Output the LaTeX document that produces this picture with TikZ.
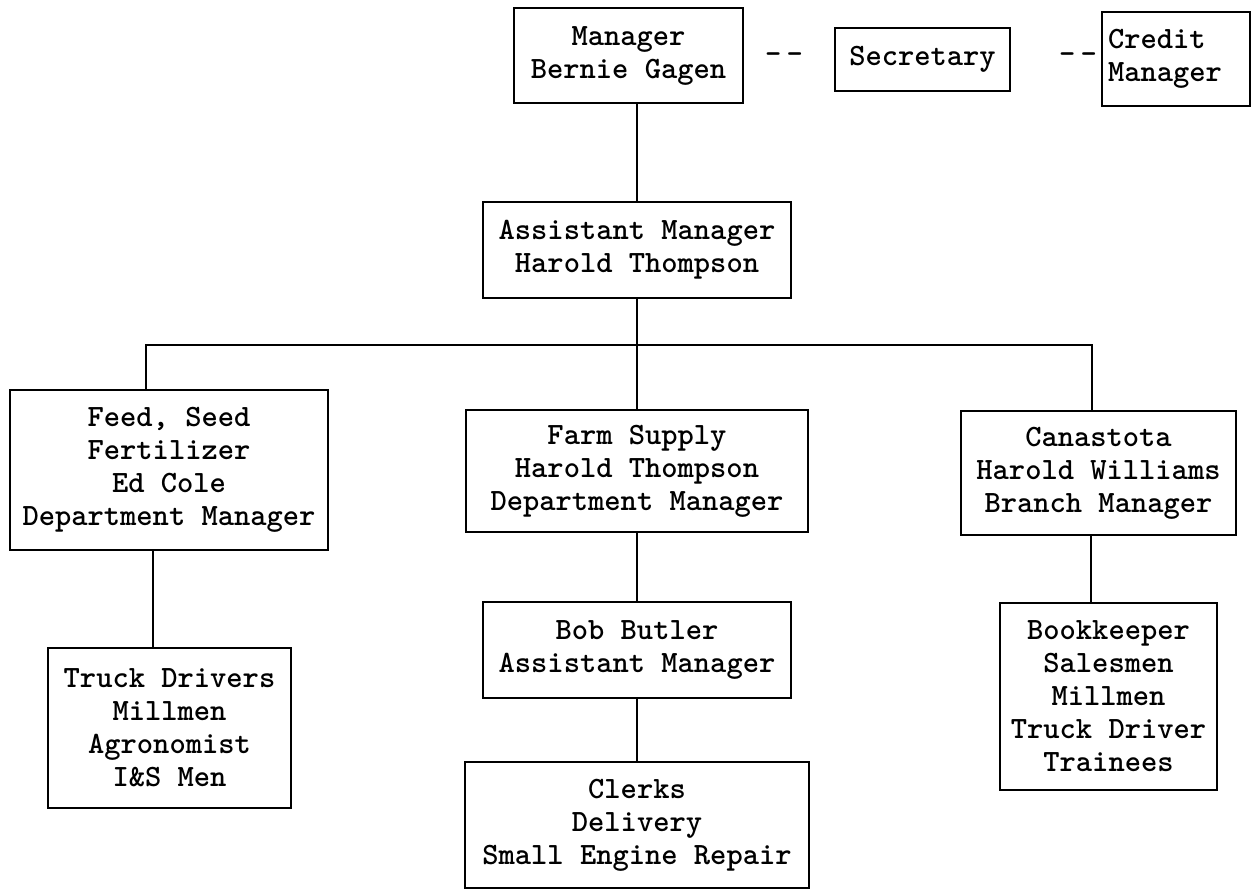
\documentclass[tikz,border=0pt]{standalone}
\usepackage{tikz}
\usetikzlibrary{positioning,calc}

\begin{document}
\begin{tikzpicture}[x=0.5pt,y=-0.5pt,line width=1.3pt,
  unit/.style={draw,align=center,inner sep=0pt,font=\fontsize{15.5}{16.5}\selectfont\ttfamily\bfseries},
  dashmark/.style={inner sep=0pt,font=\fontsize{15.5}{16.5}\selectfont\ttfamily\bfseries}]
\useasboundingbox [fill=white] (0,0) rectangle (1253,892);
% top row
\node (mgr) [unit,minimum width=114.5pt,minimum height=47.5pt] at (628.5,55.5) {Manager\\Bernie Gagen};
\node (sec) [unit,minimum width=87.5pt,minimum height=31.5pt] at (922.5,59.5) {Secretary};
\node (credit) [unit,minimum width=74pt,minimum height=47pt,align=left,text width=68pt] at (1176,59) {Credit\\Manager};
\node (d1) [dashmark] at (784,58) {-\,-};
\node (d2) [dashmark] at (1078,58) {-\,-};
% second level
\node (asst) [unit,minimum width=154pt,minimum height=48pt] at (637,250) {Assistant Manager\\Harold Thompson};
% departments
\node (feed) [unit,minimum width=159pt,minimum height=80pt] at (169,470) {Feed, Seed\\Fertilizer\\Ed Cole\\Department Manager};
\node (farm) [unit,minimum width=171pt,minimum height=61pt] at (637,471) {Farm Supply\\Harold Thompson\\Department Manager};
\node (canas) [unit,minimum width=137.5pt,minimum height=62pt] at (1098.5,473) {Canastota\\Harold Williams\\Branch Manager};
% staff
\node (truck) [unit,minimum width=121.5pt,minimum height=80pt] at (169.5,728) {Truck Drivers\\Millmen\\Agronomist\\I\&S Men};
\node (bob) [unit,minimum width=154pt,minimum height=48pt] at (637,650) {Bob Butler\\Assistant Manager};
\node (clerks) [unit,minimum width=172pt,minimum height=63pt] at (637,825) {Clerks\\Delivery\\Small Engine Repair};
\node (book) [unit,minimum width=108.5pt,minimum height=93.5pt] at (1108.5,696.5) {Bookkeeper\\Salesmen\\Millmen\\Truck Driver\\Trainees};
% connectors
\coordinate (busL) at (146,345);
\coordinate (busR) at (1092,345);
\coordinate (leftdrop) at (153,0);
\coordinate (rightdrop) at (1091,0);
\draw (asst.north) -- (asst.north |- mgr.south);
\draw (asst.south) -- (farm.north);
\draw (feed.north -| busL) -- (busL) -- (busR) -- (canas.north -| busR);
\draw (feed.south -| leftdrop) -- (truck.north -| leftdrop);
\draw (farm.south) -- (bob.north);
\draw (bob.south) -- (clerks.north);
\draw (canas.south -| rightdrop) -- (book.north -| rightdrop);
\end{tikzpicture}
\end{document}
